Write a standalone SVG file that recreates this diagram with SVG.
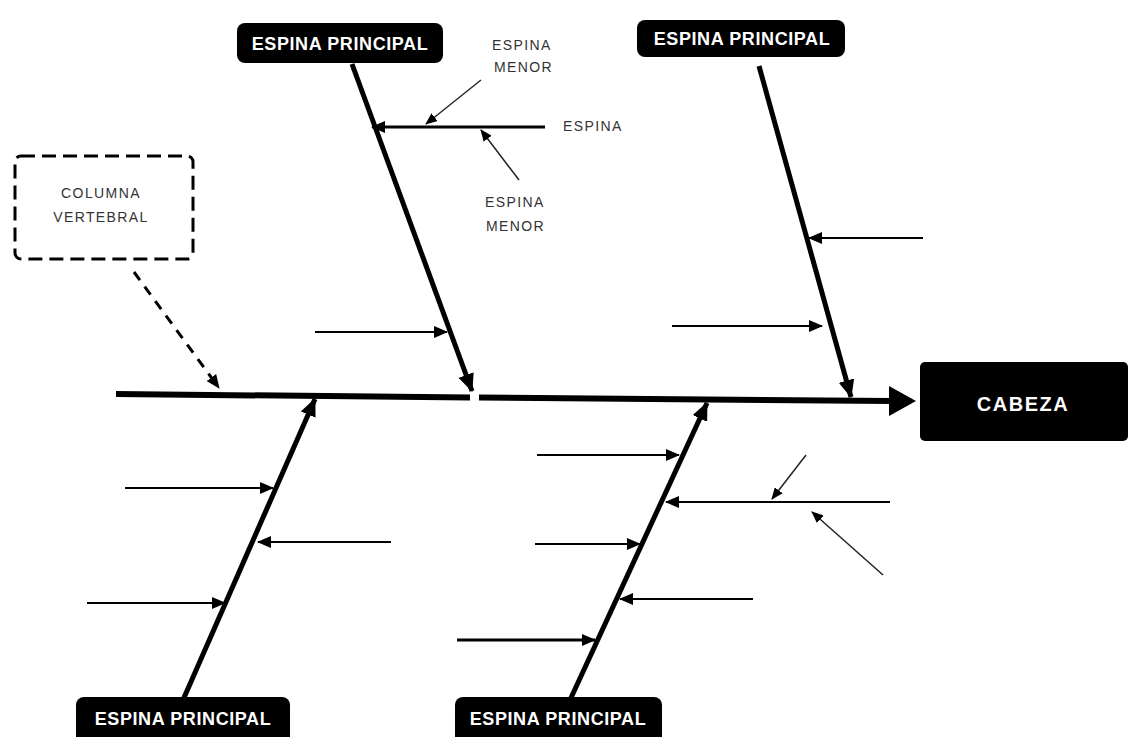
<svg xmlns="http://www.w3.org/2000/svg" width="1128" height="737" viewBox="0 0 1128 737">
<style>
.box{fill:#000}
.boxtxt{fill:#fff;font-family:"Liberation Sans",Arial,sans-serif;font-weight:bold;font-size:18px;letter-spacing:0.6px;text-anchor:middle}
.small{fill:#333;font-family:"Liberation Sans",Arial,sans-serif;font-size:14px;letter-spacing:1.4px}
.bone{stroke:#000;stroke-width:5;fill:none}
.minor{stroke:#000;stroke-width:2.2;fill:none}
.ptr{stroke:#222;stroke-width:1.5;fill:none}
</style>
<defs>
<marker id="ab" markerUnits="userSpaceOnUse" markerWidth="18" markerHeight="16" refX="17" refY="8" orient="auto"><path d="M0,0 L18,8 L0,16 z" fill="#000"/></marker>
<marker id="am" markerUnits="userSpaceOnUse" markerWidth="14" markerHeight="12" refX="13" refY="6" orient="auto"><path d="M0,0 L14,6 L0,12 z" fill="#000"/></marker>
<marker id="ap" markerUnits="userSpaceOnUse" markerWidth="12" markerHeight="10" refX="11" refY="5" orient="auto"><path d="M0,0 L12,5 L0,10 z" fill="#000"/></marker>
</defs>
<rect width="1128" height="737" fill="#fff"/>

<g id="connectors">
<!-- main spine -->
<line x1="116" y1="394" x2="470" y2="397.5" stroke="#000" stroke-width="6"/>
<line x1="479" y1="397.6" x2="892" y2="401" stroke="#000" stroke-width="6"/>
<path d="M889,386 L916,401 L889,416 z" fill="#000"/>
<!-- main bones -->
<line class="bone" x1="352" y1="64" x2="472" y2="391" marker-end="url(#ab)"/>
<line class="bone" x1="759" y1="66" x2="851" y2="397" marker-end="url(#ab)"/>
<line class="bone" x1="183" y1="700" x2="315" y2="399" marker-end="url(#ab)"/>
<line class="bone" x1="570" y1="700" x2="707" y2="403" marker-end="url(#ab)"/>
<!-- column pointer -->
<line x1="134" y1="272" x2="219" y2="388" stroke="#000" stroke-width="3" stroke-dasharray="10,8" marker-end="url(#am)"/>
<!-- minor bones top-left -->
<line x1="545" y1="127" x2="372" y2="127" stroke="#000" stroke-width="3" marker-end="url(#am)"/>
<line class="minor" x1="315" y1="332" x2="447" y2="332" marker-end="url(#am)"/>
<!-- pointers for ESPINA MENOR -->
<line class="ptr" x1="481" y1="80" x2="426" y2="124" marker-end="url(#ap)"/>
<line class="ptr" x1="519" y1="180" x2="481" y2="130" marker-end="url(#ap)"/>
<!-- minor bones top-right -->
<line class="minor" x1="923" y1="238" x2="809" y2="238" marker-end="url(#am)"/>
<line class="minor" x1="672" y1="326" x2="822" y2="326" marker-end="url(#am)"/>
<!-- minor bones bottom-left -->
<line class="minor" x1="125" y1="488" x2="273" y2="488" marker-end="url(#am)"/>
<line class="minor" x1="391" y1="542" x2="258" y2="542" marker-end="url(#am)"/>
<line class="minor" x1="87" y1="603" x2="225" y2="603" marker-end="url(#am)"/>
<!-- minor bones bottom-middle -->
<line class="minor" x1="537" y1="455" x2="679" y2="455" marker-end="url(#am)"/>
<line class="minor" x1="890" y1="502" x2="666" y2="502" marker-end="url(#am)"/>
<line class="minor" x1="535" y1="544" x2="640" y2="544" marker-end="url(#am)"/>
<line class="minor" x1="753" y1="599" x2="620" y2="599" marker-end="url(#am)"/>
<line x1="457" y1="640" x2="595" y2="640" stroke="#000" stroke-width="3" marker-end="url(#am)"/>
<!-- pointers on bottom-right minor -->
<line class="ptr" x1="806" y1="455" x2="772" y2="499" marker-end="url(#ap)"/>
<line class="ptr" x1="883" y1="575" x2="812" y2="512" marker-end="url(#ap)"/>
</g>

<g id="columna">
<rect x="15" y="156" width="178" height="103" rx="6" fill="#fff" stroke="#000" stroke-width="3" stroke-dasharray="14,7"/>
<text class="small" x="101" y="198" text-anchor="middle">COLUMNA</text>
<text class="small" x="101" y="222" text-anchor="middle">VERTEBRAL</text>
</g>

<g id="cabeza">
<rect class="box" x="920" y="362" width="208" height="79" rx="5"/>
<text x="1023" y="411" fill="#fff" font-family="'Liberation Sans',Arial,sans-serif" font-weight="bold" font-size="20" letter-spacing="1.5" text-anchor="middle">CABEZA</text>
</g>

<g id="espina-principal-1">
<rect class="box" x="237" y="23" width="206" height="40" rx="8"/>
<text class="boxtxt" x="340" y="50">ESPINA PRINCIPAL</text>
</g>

<g id="espina-principal-2">
<rect class="box" x="637" y="20" width="208" height="37" rx="8"/>
<text class="boxtxt" x="742" y="45">ESPINA PRINCIPAL</text>
</g>

<g id="espina-principal-3">
<rect class="box" x="76" y="697" width="214" height="50" rx="8"/>
<text class="boxtxt" x="183" y="725">ESPINA PRINCIPAL</text>
</g>

<g id="espina-principal-4">
<rect class="box" x="455" y="697" width="207" height="50" rx="8"/>
<text class="boxtxt" x="558" y="725">ESPINA PRINCIPAL</text>
</g>

<g id="labels">
<text class="small" x="492" y="50">ESPINA</text>
<text class="small" x="494" y="72">MENOR</text>
<text class="small" x="563" y="131">ESPINA</text>
<text class="small" x="485" y="207">ESPINA</text>
<text class="small" x="486" y="231">MENOR</text>
</g>
</svg>
